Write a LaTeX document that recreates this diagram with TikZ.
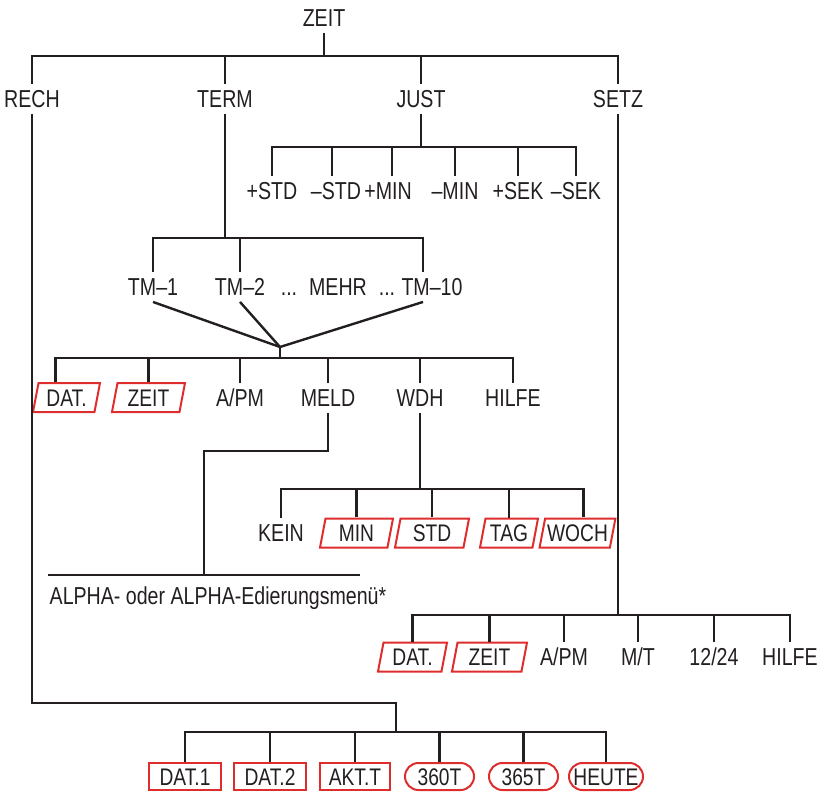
\documentclass[tikz,border=0pt]{standalone}
\usepackage{fontspec}
\setmainfont[FakeStretch=0.8]{Liberation Sans}
\usetikzlibrary{shapes.geometric,shapes.misc}
\definecolor{hpred}{RGB}{222,45,45}
\definecolor{ink}{RGB}{35,31,32}
\begin{document}
\begin{tikzpicture}[x=1pt,y=-1pt,
  lbl/.style={font=\fontsize{24.5}{26}\selectfont, text=ink, text height=17.5pt, text depth=0pt, inner xsep=1pt, inner ysep=6pt},
  boxtxt/.style={font=\fontsize{24}{25}\selectfont, text=ink, text height=17pt, text depth=0pt},
  pbox/.style={boxtxt, draw=hpred, line width=2pt, trapezium, trapezium left angle=72, trapezium right angle=108, trapezium stretches body, minimum height=29pt, inner ysep=0pt, inner xsep=2pt},
  rbox/.style={boxtxt, draw=hpred, line width=2pt, rectangle, minimum height=27pt, inner sep=0pt},
  obox/.style={boxtxt, draw=hpred, line width=2pt, rounded rectangle, minimum height=27pt, inner sep=0pt},
  conn/.style={draw=ink, line width=2.4pt}
]
\useasboundingbox (0,0) rectangle (824,794);

% level 0/1
\node[lbl] (zeit) at (324,18) {ZEIT};
\node[lbl] (rech) at (32,99) {RECH};
\node[lbl] (term) at (225,99) {TERM};
\node[lbl] (just) at (421,99) {JUST};
\node[lbl] (setz) at (618,99) {SETZ};
\coordinate (l1) at (0,56);
\draw[conn] (zeit.south) -- (zeit.south |- l1);
\draw[conn] (rech.north) |- (setz.north |- l1) -- (setz.north);
\draw[conn] (term.north) -- (term.north |- l1);
\draw[conn] (just.north) -- (just.north |- l1);

% JUST
\node[lbl] (pstd) at (272,191) {+STD};
\node[lbl] (mstd) at (336,191) {–STD};
\node[lbl] (pmin) at (388,191) {+MIN};
\node[lbl] (mmin) at (455,191) {–MIN};
\node[lbl] (psek) at (518,191) {+SEK};
\node[lbl] (msek) at (576,191) {–SEK};
\coordinate (l2) at (0,147);
\draw[conn] (just.south) -- (just.south |- l2);
\draw[conn] (pstd.north) |- (msek.north |- l2) -- (msek.north);
\draw[conn] ([xshift=-4pt]mstd.north) -- ([xshift=-4pt]mstd.north |- l2);
\draw[conn] ([xshift=4pt]pmin.north) -- ([xshift=4pt]pmin.north |- l2);
\foreach \n in {mmin,psek} \draw[conn] (\n.north) -- (\n.north |- l2);

% TERM
\node[lbl] (tm1) at (153,287) {TM–1};
\node[lbl] (tm2) at (240,287) {TM–2};
\node[lbl] (mehr) at (338,287) {...\hspace{12pt}MEHR\hspace{12pt}...};
\node[lbl] (tm10) at (432,287) {TM–10};
\coordinate (l3) at (0,238);
\draw[conn] (term.south) -- (term.south |- l3);
\draw[conn] (tm1.north) |- ([xshift=-9pt]tm10.north |- l3) -- ([xshift=-9pt]tm10.north);
\draw[conn] (tm2.north) -- (tm2.north |- l3);
\coordinate (conv) at (280,347);
\draw[conn] (tm1.south) -- (conv);
\draw[conn] (tm2.south) -- (conv);
\draw[conn] ([xshift=-9pt]tm10.south) -- (conv);
\coordinate (l4) at (0,358);
\draw[conn] (conv) -- (conv |- l4);

\node[pbox, minimum width=67pt] (datA) at (66.5,397.5) {DAT.};
\node[pbox, minimum width=73pt] (zeitA) at (148.5,397.5) {ZEIT};
\node[lbl] (apm) at (240,398) {A/PM};
\node[lbl] (meld) at (328,398) {MELD};
\node[lbl] (wdh) at (420,398) {WDH};
\node[lbl] (hilfe) at (513,398) {HILFE};
\draw[conn] ([xshift=-11pt]datA.north) |- (hilfe.north |- l4) -- (hilfe.north);
\foreach \n in {zeitA,apm,meld,wdh} \draw[conn] (\n.north) -- (\n.north |- l4);

% MELD
\coordinate (mk) at (204,451);
\coordinate (alj) at (204,575);
\coordinate (al1) at (48,575);
\coordinate (al2) at (360,575);
\draw[conn] (meld.south) |- (mk) -- (alj);
\draw[conn] (al1) -- (al2);
\node[lbl, anchor=base] (alpha) at (218,604) {ALPHA- oder ALPHA-Edierungsmenü*};

% WDH
\node[lbl] (kein) at (281,533) {KEIN};
\node[pbox, minimum width=73pt] (minB) at (356.5,533) {MIN};
\node[pbox, minimum width=74pt] (stdB) at (432,533) {STD};
\node[pbox, minimum width=58pt] (tag) at (509,533) {TAG};
\node[pbox, minimum width=73pt] (woch) at (577.5,533) {WOCH};
\coordinate (l5) at (0,489);
\draw[conn] (wdh.south) -- (wdh.south |- l5);
\draw[conn] (kein.north) |- ([xshift=6pt]woch.north |- l5) -- ([xshift=6pt]woch.north);
\foreach \n in {minB,stdB,tag} \draw[conn] (\n.north) -- (\n.north |- l5);

% SETZ
\node[pbox, minimum width=69pt] (datB) at (412.5,657) {DAT.};
\node[pbox, minimum width=75pt] (zeitB) at (489.5,657) {ZEIT};
\node[lbl] (apmB) at (564,657) {A/PM};
\node[lbl] (mt) at (638,657) {M/T};
\node[lbl] (t1224) at (714,657) {12/24};
\node[lbl] (hilfeB) at (790,657) {HILFE};
\coordinate (l6) at (0,615);
\draw[conn] (setz.south) -- (setz.south |- l6);
\draw[conn] (datB.north) |- (hilfeB.north |- l6) -- (hilfeB.north);
\foreach \n in {zeitB,apmB,mt,t1224} \draw[conn] (\n.north) -- (\n.north |- l6);

% RECH
\node[rbox, minimum width=72pt] (dat1) at (185,776.5) {DAT.1};
\node[rbox, minimum width=72pt] (dat2) at (270,776.5) {DAT.2};
\node[rbox, minimum width=70pt] (akt) at (355,776.5) {AKT.T};
\node[obox, minimum width=69pt] (t360) at (439.5,776.5) {360T};
\node[obox, minimum width=69pt] (t365) at (523.5,776.5) {365T};
\node[obox, minimum width=74pt] (heute) at (606,776.5) {HEUTE};
\coordinate (rk) at (396,703);
\coordinate (l7) at (0,732);
\draw[conn] (rech.south) |- (rk) -- (rk |- l7);
\draw[conn] (dat1.north) |- (heute.north |- l7) -- (heute.north);
\foreach \n in {dat2,akt,t360,t365} \draw[conn] (\n.north) -- (\n.north |- l7);
\end{tikzpicture}
\end{document}
